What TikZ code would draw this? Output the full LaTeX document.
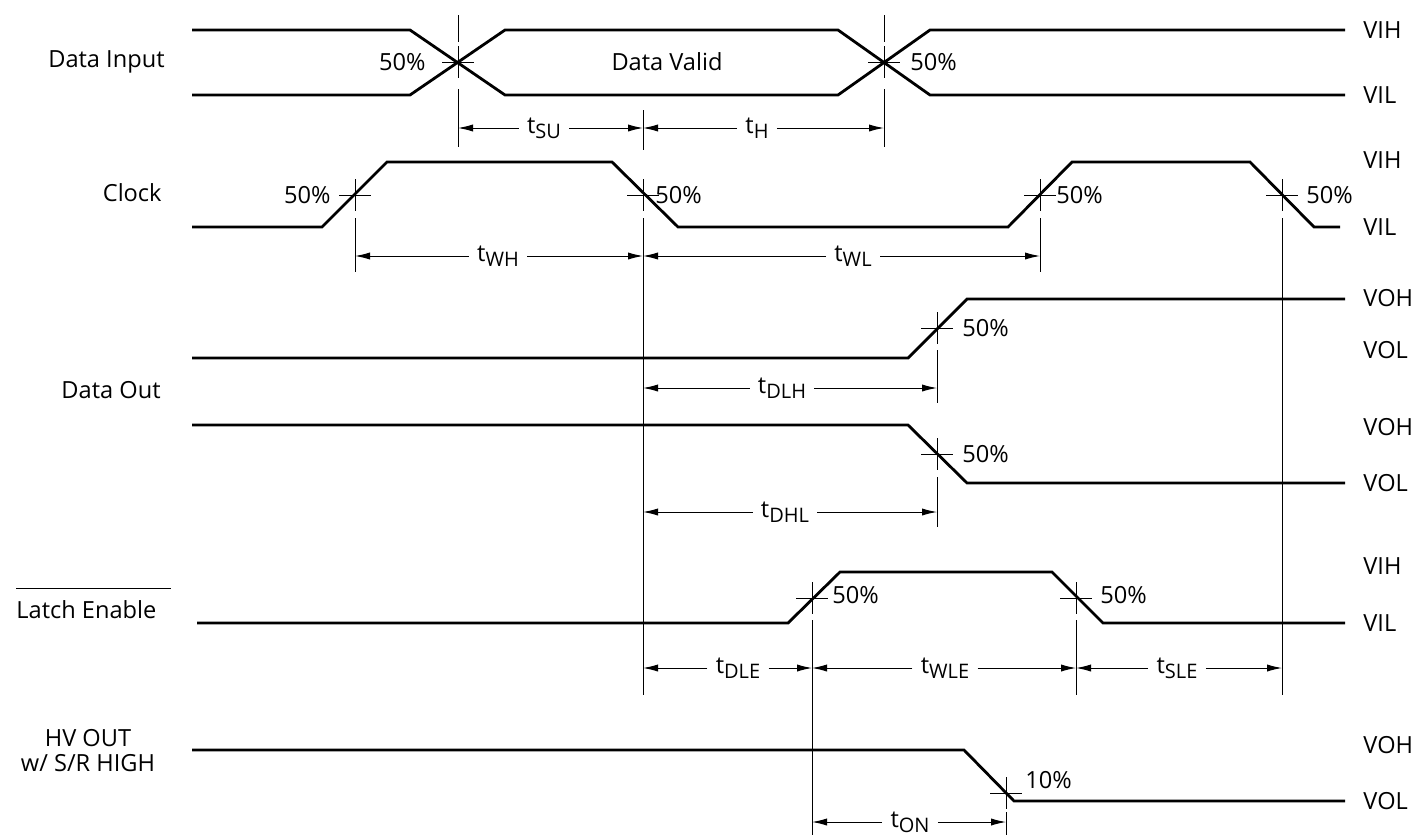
\documentclass[tikz,border=0pt]{standalone}
\usepackage{fontspec}
\setmainfont{Open Sans}
\usetikzlibrary{arrows.meta}
\usetikzlibrary{calc}
\tikzset{signal/.style={line width=1.4pt}}
\tikzset{dimline/.style={line width=0.5pt}}
\tikzset{dimarrow/.style={line width=0.5pt,-{Latex[length=7.5pt,width=3.6pt]}}}
\tikzset{txt/.style={font=\fontsize{11.8}{13.5}\selectfont,inner sep=0pt}}
\tikzset{tlabel/.style={txt,inner xsep=4pt}}
\tikzset{xhair/.pic={\draw[dimline] (-16,0) -- (16,0) (0,-16) -- (0,16);}}
\newcommand{\tsub}[1]{t\raisebox{-0.4ex}{\fontsize{10}{10}\selectfont #1}}

\begin{document}
\begin{tikzpicture}[x=0.5pt,y=-0.5pt]
\useasboundingbox (0,0) rectangle (1416,835);
% 50% points
\coordinate (di1) at (458,62);
\coordinate (di2) at (884,62);
\coordinate (ck1) at (355,195);
\coordinate (ck2) at (643,195);
\coordinate (ck3) at (1040,195);
\coordinate (ck4) at (1282,195);
\coordinate (do1) at (937,328);
\coordinate (do2) at (937,454);
\coordinate (le1) at (812,598);
\coordinate (le2) at (1076,598);
\coordinate (hv1) at (1006,793);
%
% data input
\draw[signal] (192,30) -- (410,30) -- (505,95) -- (838,95) -- (930,30) -- (1345,30);
\draw[signal] (192,95) -- (410,95) -- (505,30) -- (838,30) -- (930,95) -- (1345,95);
\node[txt,anchor=east] (dinput) at (165,62) {Data Input};
\node[txt] (dvalid) at (667,62) {Data Valid};
\node[txt,anchor=west] (divih) at (1363,30) {VIH};
\node[txt,anchor=west] (divil) at (1363,95) {VIL};
\node[txt,anchor=east] (dip1) at ($(di1)+(-32,0)$) {50\%};
\node[txt,anchor=west] (dip2) at ($(di2)+(26,0)$) {50\%};
%
% clock
\draw[signal] (192,227) -- (322,227) -- (387,162) -- (612,162) -- (678,227) -- (1008,227) -- (1072,162) -- (1250,162) -- (1314,227) -- (1340,227);
\node[txt,anchor=east] (clock) at (162,193) {Clock};
\node[txt,anchor=west] (ckvih) at (1363,160) {VIH};
\node[txt,anchor=west] (ckvil) at (1363,227) {VIL};
\node[txt,anchor=east] (ckp1) at ($(ck1)+(-24,0)$) {50\%};
\node[txt,anchor=west] (ckp2) at ($(ck2)+(12,0)$) {50\%};
\node[txt,anchor=west] (ckp3) at ($(ck3)+(16,0)$) {50\%};
\node[txt,anchor=west] (ckp4) at ($(ck4)+(24,0)$) {50\%};
%
% data out
\draw[signal] (192,358) -- (908,358) -- (967,299) -- (1345,299);
\draw[signal] (192,425) -- (908,425) -- (967,483) -- (1345,483);
\node[txt,anchor=east] (dout) at (161,390) {Data Out};
\node[txt,anchor=west] (dovoh1) at (1363,298) {VOH};
\node[txt,anchor=west] (dovol1) at (1363,350) {VOL};
\node[txt,anchor=west] (dovoh2) at (1363,427) {VOH};
\node[txt,anchor=west] (dovol2) at (1363,483) {VOL};
\node[txt,anchor=west] (dop1) at ($(do1)+(25,0)$) {50\%};
\node[txt,anchor=west] (dop2) at ($(do2)+(25,0)$) {50\%};
%
% latch enable
\draw[signal] (197,623) -- (788,623) -- (840,572) -- (1052,572) -- (1103,623) -- (1345,623);
\node[txt,anchor=west] (latch) at (16,610) {Latch Enable};
\draw[dimline] ($(latch.north west)+(0,-12)$) -- ($(latch.north east)+(14,-12)$);
\node[txt,anchor=west] (levih) at (1363,566) {VIH};
\node[txt,anchor=west] (levil) at (1363,623) {VIL};
\node[txt,anchor=west] (lep1) at ($(le1)+(20,-3)$) {50\%};
\node[txt,anchor=west] (lep2) at ($(le2)+(24,-3)$) {50\%};
%
% hv out
\draw[signal] (192,750) -- (964,750) -- (1014,801) -- (1345,801);
\node[txt,align=center] (hvout) at (88,751) {HV OUT\\[-1pt]w/ S/R HIGH};
\node[txt,anchor=west] (hvvoh) at (1363,745) {VOH};
\node[txt,anchor=west] (hvvol) at (1363,801) {VOL};
\node[txt,anchor=west] (hvp1) at ($(hv1)+(19,-13)$) {10\%};
%
% crosshairs
\foreach \p in {di1,di2,ck1,ck2,ck3,ck4,do1,do2,le1,le2,hv1}
  \pic at (\p) {xhair};
%
% extension lines
\draw[dimline] (458,15) -- (458,42) (458,89) -- (458,147);
\draw[dimline] (884,15) -- (884,42) (884,89) -- (884,147);
\draw[dimline] (643,110) -- (643,150) (643,218) -- (643,695);
\draw[dimline] (355,218) -- (355,272);
\draw[dimline] (1040,218) -- (1040,272);
\draw[dimline] (1282,218) -- (1282,695);
\draw[dimline] (937,350) -- (937,403) (937,477) -- (937,527);
\draw[dimline] (812,620) -- (812,835);
\draw[dimline] (1076,620) -- (1076,695);
\draw[dimline] (1006,812) -- (1006,835);
%
% timing
\node[tlabel] (tsu) at (544,128) {\tsub{SU}};
\draw[dimarrow] (tsu) -- (di1 |- tsu);
\draw[dimarrow] (tsu) -- (ck2 |- tsu);
\node[tlabel] (th) at (757,128) {\tsub{H}};
\draw[dimarrow] (th) -- (ck2 |- th);
\draw[dimarrow] (th) -- (di2 |- th);
\node[tlabel] (twh) at (498,256) {\tsub{WH}};
\draw[dimarrow] (twh) -- (ck1 |- twh);
\draw[dimarrow] (twh) -- (ck2 |- twh);
\node[tlabel] (twl) at (853,256) {\tsub{WL}};
\draw[dimarrow] (twl) -- (ck2 |- twl);
\draw[dimarrow] (twl) -- (ck3 |- twl);
\node[tlabel] (tdlh) at (782,388) {\tsub{DLH}};
\draw[dimarrow] (tdlh) -- (ck2 |- tdlh);
\draw[dimarrow] (tdlh) -- (do1 |- tdlh);
\node[tlabel] (tdhl) at (785,512) {\tsub{DHL}};
\draw[dimarrow] (tdhl) -- (ck2 |- tdhl);
\draw[dimarrow] (tdhl) -- (do2 |- tdhl);
\node[tlabel] (tdle) at (738,668) {\tsub{DLE}};
\draw[dimarrow] (tdle) -- (ck2 |- tdle);
\draw[dimarrow] (tdle) -- (le1 |- tdle);
\node[tlabel] (twle) at (945,668) {\tsub{WLE}};
\draw[dimarrow] (twle) -- (le1 |- twle);
\draw[dimarrow] (twle) -- (le2 |- twle);
\node[tlabel] (tsle) at (1177,668) {\tsub{SLE}};
\draw[dimarrow] (tsle) -- (le2 |- tsle);
\draw[dimarrow] (tsle) -- (ck4 |- tsle);
\node[tlabel] (ton) at (910,822) {\tsub{ON}};
\draw[dimarrow] (ton) -- (le1 |- ton);
\draw[dimarrow] (ton) -- (hv1 |- ton);
\end{tikzpicture}
\end{document}
